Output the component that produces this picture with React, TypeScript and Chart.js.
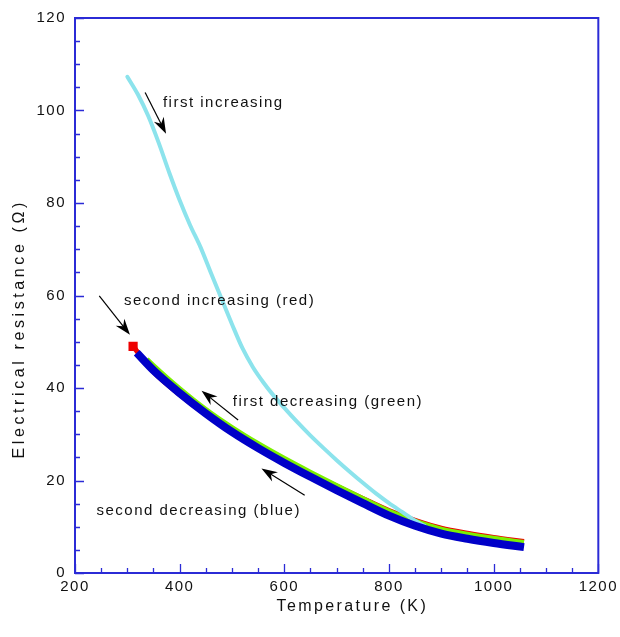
import React, { useEffect, useRef } from "react";
import { Chart, registerables } from "chart.js";

Chart.register(...registerables);

// Temperature (K) / resistance (Ohm)
const cyanT = [300, 320, 340, 360, 380, 400, 420, 440, 460, 480, 500, 520, 540, 560, 580, 600, 625, 650, 675, 700, 725, 750, 775, 800, 825, 850, 868];
const cyanR = [107.3, 103.5, 98.8, 93.0, 86.6, 80.6, 75.2, 70.4, 64.8, 59.3, 53.8, 48.6, 44.5, 41.2, 38.3, 35.7, 32.6, 29.7, 27.0, 24.4, 21.9, 19.5, 17.2, 15.1, 13.2, 11.3, 10.2];

const blueT = [318, 350, 400, 450, 500, 550, 600, 650, 700, 750, 800, 850, 900, 950, 1000, 1058];
const blueR = [47.6, 43.8, 38.9, 34.5, 30.5, 27.0, 23.8, 20.8, 17.9, 15.1, 12.4, 10.2, 8.5, 7.4, 6.5, 5.6];

const greenT = [338, 350, 400, 450, 500, 550, 600, 650, 700, 750, 800, 850, 900, 950, 1000, 1058];
const greenR = [46.3, 45.0, 40.0, 35.5, 31.6, 28.1, 24.9, 21.9, 19.0, 16.2, 13.5, 11.3, 9.6, 8.5, 7.6, 6.7];

const redT = [311, 350, 400, 450, 500, 550, 600, 650, 700, 750, 800, 850, 900, 950, 1000, 1058];
const redR = [49.0, 43.5, 38.6, 34.3, 30.6, 27.3, 24.3, 21.5, 18.8, 16.1, 13.5, 11.4, 9.7, 8.6, 7.7, 6.8];

const xTicks = [200, 400, 600, 800, 1000, 1200];
const yTicks = [0, 20, 40, 60, 80, 100, 120];

// annotations: text anchor and arrow (from -> tip), in data units
const noteLabels = ["first increasing", "second increasing (red)", "first decreasing (green)", "second decreasing (blue)"];
const noteTextT = [368, 293.5, 501.5, 241];
const noteTextR = [101.7, 58.8, 36.9, 13.4];
const arrowFromT = [334, 246.4, 511.7, 638.9];
const arrowFromR = [103.9, 59.9, 33.1, 16.8];
const arrowTipT = [374, 305, 441.8, 556.3];
const arrowTipR = [95.0, 51.5, 39.4, 22.6];

const AXIS_BLUE = "#2b2bd6";
const FONT = "'Liberation Sans', Arial, sans-serif";

function toXY(t: number[], r: number[]) {
  return t.map((v, i) => ({ x: v, y: r[i] }));
}

function drawArrow(ctx: CanvasRenderingContext2D, x1: number, y1: number, x2: number, y2: number) {
  const ang = Math.atan2(y2 - y1, x2 - x1);
  const len = 16;
  const half = 5.5;
  const notch = 5;
  ctx.save();
  ctx.strokeStyle = "#000";
  ctx.fillStyle = "#000";
  ctx.lineWidth = 1.2;
  ctx.beginPath();
  ctx.moveTo(x1, y1);
  ctx.lineTo(x2 - Math.cos(ang) * notch, y2 - Math.sin(ang) * notch);
  ctx.stroke();
  const bx = x2 - Math.cos(ang) * len;
  const by = y2 - Math.sin(ang) * len;
  const nx = x2 - Math.cos(ang) * (len - notch);
  const ny = y2 - Math.sin(ang) * (len - notch);
  const px = -Math.sin(ang) * half;
  const py = Math.cos(ang) * half;
  ctx.beginPath();
  ctx.moveTo(x2, y2);
  ctx.lineTo(bx + px, by + py);
  ctx.lineTo(nx, ny);
  ctx.lineTo(bx - px, by - py);
  ctx.closePath();
  ctx.fill();
  ctx.restore();
}

const decoPlugin = {
  id: "deco",
  beforeDraw(chart: any) {
    chart.ctx.letterSpacing = "1.5px";
  },
  afterDraw(chart: any) {
    const ctx: CanvasRenderingContext2D = chart.ctx;
    const { left, right, top, bottom } = chart.chartArea;
    const xs = chart.scales.x;
    const ys = chart.scales.y;
    ctx.save();
    // frame
    ctx.strokeStyle = AXIS_BLUE;
    ctx.lineWidth = 2;
    ctx.strokeRect(left, top, right - left, bottom - top);
    // inward ticks
    ctx.lineWidth = 1.3;
    ctx.beginPath();
    for (let v = 200; v <= 1200; v += 50) {
      const px = Math.round(xs.getPixelForValue(v)) + 0.5;
      const l = v % 200 === 0 ? 9 : 5;
      ctx.moveTo(px, bottom);
      ctx.lineTo(px, bottom - l);
    }
    for (let v = 0; v <= 120; v += 5) {
      const py = Math.round(ys.getPixelForValue(v)) + 0.5;
      const l = v % 20 === 0 ? 9 : 5;
      ctx.moveTo(left, py);
      ctx.lineTo(left + l, py);
    }
    ctx.stroke();

    // annotations
    ctx.letterSpacing = "1.5px";
    ctx.fillStyle = "#111";
    ctx.font = `15px ${FONT}`;
    ctx.textAlign = "left";
    ctx.textBaseline = "middle";
    noteLabels.forEach((txt, i) => {
      ctx.fillText(txt, xs.getPixelForValue(noteTextT[i]), ys.getPixelForValue(noteTextR[i]));
      drawArrow(
        ctx,
        xs.getPixelForValue(arrowFromT[i]),
        ys.getPixelForValue(arrowFromR[i]),
        xs.getPixelForValue(arrowTipT[i]),
        ys.getPixelForValue(arrowTipR[i])
      );
    });

    // axis titles
    ctx.letterSpacing = "2.4px";
    ctx.font = `16px ${FONT}`;
    ctx.fillStyle = "#111";
    ctx.textAlign = "center";
    ctx.textBaseline = "middle";
    ctx.fillText("Temperature (K)", left + (right - left) * 0.53, bottom + 34);
    ctx.save();
    ctx.letterSpacing = "3.6px";
    ctx.translate(left - 55, top + (bottom - top) * 0.56);
    ctx.rotate(-Math.PI / 2);
    ctx.fillText("Electrical resistance (\u03A9)", 0, 0);
    ctx.restore();
    ctx.restore();
  },
};

export default function App() {
  const ref = useRef<HTMLCanvasElement | null>(null);
  useEffect(() => {
    document.body.style.margin = "0";
    const canvas = ref.current;
    if (!canvas) return;
    const chart = new Chart(canvas, {
      type: "scatter",
      data: {
        datasets: [
          {
            label: "second decreasing (blue)",
            data: toXY(blueT, blueR),
            showLine: true,
            borderColor: "#0000c8",
            borderWidth: 8,
            pointRadius: 0,
            cubicInterpolationMode: "monotone",
            borderCapStyle: "butt",
          },
          {
            label: "first increasing",
            data: toXY(cyanT, cyanR),
            showLine: true,
            borderColor: "#8ce3ec",
            borderWidth: 4,
            pointRadius: 0,
            cubicInterpolationMode: "monotone",
            borderCapStyle: "round",
          },
          {
            label: "first decreasing (green)",
            data: toXY(greenT, greenR),
            showLine: true,
            borderColor: "#7cf000",
            borderWidth: 4,
            pointRadius: 0,
            cubicInterpolationMode: "monotone",
          },
          {
            label: "second increasing (red)",
            data: toXY(redT, redR),
            showLine: true,
            borderColor: "#ee0000",
            backgroundColor: "#ee0000",
            borderWidth: 5,
            pointStyle: "rect",
            pointRadius: (c: any) => (c.dataIndex === 0 ? 6.5 : 0),
            pointBorderWidth: 0,
            cubicInterpolationMode: "monotone",
          },
        ] as any,
      },
      options: {
        responsive: false,
        animation: false,
        events: [],
        layout: { padding: { top: 16, right: 21, left: 0, bottom: 0 } },
        plugins: { legend: { display: false }, tooltip: { enabled: false } },
        scales: {
          x: {
            type: "linear",
            min: 200,
            max: 1200,
            afterFit: (s: any) => {
              s.height = 64;
            },
            afterBuildTicks: (s: any) => {
              s.ticks = xTicks.map((v) => ({ value: v }));
            },
            grid: { display: false, drawTicks: false },
            border: { display: false },
            ticks: {
              padding: 5,
              color: "#111",
              font: { family: FONT, size: 15 },
              maxRotation: 0,
              callback: (v: any) => String(v),
            },
          },
          y: {
            type: "linear",
            min: 0,
            max: 120,
            afterFit: (s: any) => {
              s.width = 75;
            },
            afterBuildTicks: (s: any) => {
              s.ticks = yTicks.map((v) => ({ value: v }));
            },
            grid: { display: false, drawTicks: false },
            border: { display: false },
            ticks: {
              padding: 9,
              color: "#111",
              font: { family: FONT, size: 15 },
              callback: (v: any) => String(v),
            },
          },
        },
      } as any,
      plugins: [decoPlugin],
    });
    return () => chart.destroy();
  }, []);
  return (
    <div style={{ width: 620, height: 637 }}>
      <canvas ref={ref} width={620} height={637} style={{ display: "block" }} />
    </div>
  );
}
